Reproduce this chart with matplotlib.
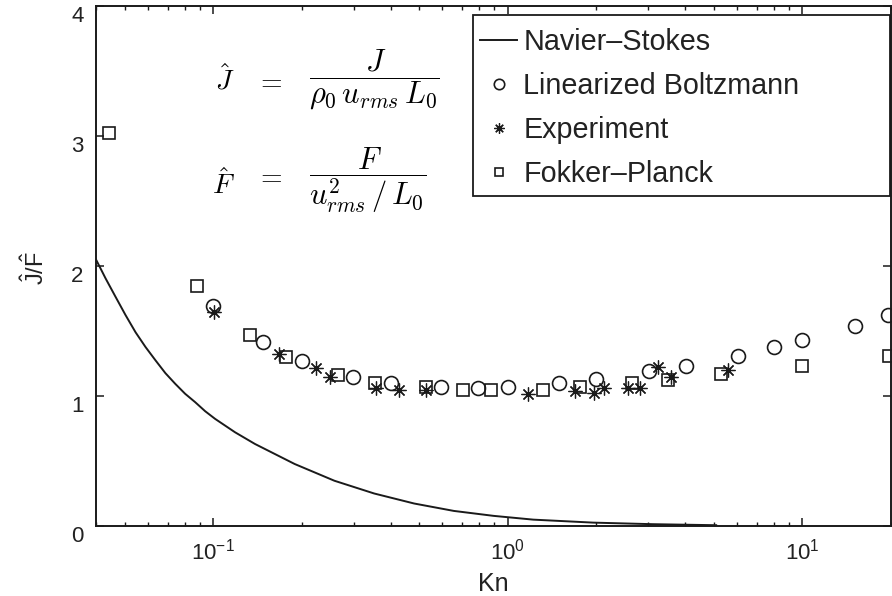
import matplotlib
matplotlib.use("Agg")
import matplotlib.pyplot as plt
from matplotlib.patches import Rectangle
from matplotlib.ticker import LogLocator, FuncFormatter, NullFormatter, FixedLocator
import numpy as np

plt.rcParams['font.family'] = ['Liberation Sans', 'DejaVu Sans']
plt.rcParams['mathtext.fontset'] = 'custom'
plt.rcParams['mathtext.rm'] = 'Liberation Sans'
plt.rcParams['mathtext.it'] = 'Liberation Sans:italic'
plt.rcParams['mathtext.bf'] = 'Liberation Sans:bold'

# ---------------- data ----------------
ns_kn = [0.040, 0.0431, 0.0466, 0.0504, 0.0545, 0.0589, 0.0637, 0.0688, 0.0743,
         0.0803, 0.0869, 0.0939, 0.1015, 0.1186, 0.1386, 0.189, 0.258, 0.352,
         0.481, 0.656, 0.895, 1.22, 1.95, 3.1, 4.52, 5.1]
ns_jf = [2.05, 1.905, 1.763, 1.622, 1.49, 1.377, 1.274, 1.176, 1.094,
         1.017, 0.952, 0.883, 0.824, 0.721, 0.631, 0.477, 0.348, 0.25,
         0.173, 0.116, 0.078, 0.049, 0.026, 0.014, 0.008, 0.006]

lb_kn = [0.100, 0.148, 0.200, 0.298, 0.400, 0.593, 0.790, 1.00, 1.49, 1.99,
         3.01, 4.02, 6.04, 8.00, 10.0, 15.1, 19.5]
lb_jf = [1.69, 1.415, 1.27, 1.15, 1.10, 1.07, 1.06, 1.07, 1.10, 1.13,
         1.19, 1.23, 1.31, 1.38, 1.43, 1.54, 1.62]

ex_kn = [0.101, 0.167, 0.223, 0.250, 0.356, 0.427, 0.527, 1.17, 1.69, 1.96,
         2.12, 2.55, 2.81, 3.23, 3.57, 5.58]
ex_jf = [1.65, 1.32, 1.215, 1.15, 1.06, 1.045, 1.045, 1.015, 1.04, 1.02,
         1.06, 1.06, 1.06, 1.22, 1.15, 1.20]

fp_kn = [0.0442, 0.0879, 0.133, 0.176, 0.265, 0.353, 0.527, 0.703, 0.875, 1.315,
         1.757, 2.64, 3.49, 5.28, 10.0, 19.7]
fp_jf = [3.02, 1.846, 1.47, 1.30, 1.16, 1.10, 1.07, 1.046, 1.046, 1.05,
         1.07, 1.10, 1.12, 1.17, 1.23, 1.31]

labels = ['Navier\u2013Stokes', 'Linearized Boltzmann', 'Experiment', 'Fokker\u2013Planck']
y_ticks = [0, 1, 2, 3, 4]
x_major = [0.1, 1.0, 10.0]

# ---------------- figure ----------------
W, H = 892, 596
fig = plt.figure(figsize=(W / 100, H / 100), dpi=100)
ax = fig.add_axes([96 / W, 70 / H, 795 / W, 520 / H])

ink = '#1a1a1a'
txt = '#222222'
ax.plot(ns_kn, ns_jf, '-', color=ink, lw=1.4, label=labels[0])
ax.plot(lb_kn, lb_jf, 'o', ls='none', mfc='none', mec=ink, mew=1.2, ms=10, label=labels[1])
ax.plot(ex_kn, ex_jf, marker=(8, 2, 0), ls='none', color=ink, mew=0.9, ms=10, label=labels[2])
ax.plot(fp_kn, fp_jf, 's', ls='none', mfc='none', mec=ink, mew=1.2, ms=8, label=labels[3])

ax.set_xscale('log')
ax.set_xlim(0.04, 20)
ax.set_ylim(0, 4)
ax.xaxis.set_major_locator(FixedLocator(x_major))
ax.xaxis.set_major_formatter(FuncFormatter(lambda v, p: r'$10^{%d}$' % int(round(np.log10(v)))))
ax.xaxis.set_minor_locator(LogLocator(base=10, subs=np.arange(2, 10), numticks=20))
ax.xaxis.set_minor_formatter(NullFormatter())
ax.set_yticks(y_ticks)
ax.set_yticklabels([str(t) for t in y_ticks])
for lab in ax.get_yticklabels():
    lab.set_verticalalignment('top')

ax.tick_params(which='both', direction='in', top=True, right=True, colors=ink,
               labelcolor=txt)
ax.tick_params(which='major', length=6, width=1.1, labelsize=16)
ax.tick_params(axis='y', which='major', pad=9)
ax.tick_params(axis='x', which='major', pad=9)
ax.tick_params(which='minor', length=3, width=1.0)
for s in ax.spines.values():
    s.set_linewidth(1.4)
    s.set_color(ink)

ax.set_xlabel('Kn', fontsize=18, color=txt, labelpad=5.5)
fig.text(35 / W, 1 - 268 / H, r'$\mathrm{\hat{J}/\hat{F}}$', rotation=90,
         ha='center', va='center', fontsize=17, color=txt)

# equations
eq = dict(math_fontfamily='cm', color='black')
fig.text(215 / W, 1 - 89 / H, r'$\hat{J}$', fontsize=20, ha='left', va='baseline', **eq)
fig.text(269 / W, 1 - 82 / H, r'$=$', fontsize=20, ha='center', va='center', **eq)
fig.text(374 / W, 1 - 80 / H, r'$\dfrac{J}{\rho_0\, u_{rms}\, L_0}$', fontsize=22,
         ha='center', va='center', **eq)
fig.text(212 / W, 1 - 194 / H, r'$\hat{F}$', fontsize=20, ha='left', va='baseline', **eq)
fig.text(269 / W, 1 - 177 / H, r'$=$', fontsize=20, ha='center', va='center', **eq)
fig.text(368 / W, 1 - 180 / H, r'$\dfrac{F}{u_{rms}^2\,/\,L_0}$', fontsize=22,
         ha='center', va='center', **eq)

# legend (frame drawn as a separate box, MATLAB style)
leg = ax.legend(loc='upper left', bbox_to_anchor=(480 / W, 1 - 28 / H),
                bbox_transform=fig.transFigure, borderaxespad=0,
                fontsize=20.7, frameon=False,
                handlelength=1.3, handletextpad=0.2, borderpad=0, labelspacing=0.56,
                markerscale=0.75)
for t in leg.get_texts():
    t.set_color(txt)
ax.add_patch(Rectangle((473 / W, 1 - 196 / H), 417 / W, 181 / H,
                       transform=fig.transFigure, facecolor='white',
                       edgecolor=ink, linewidth=1.3, zorder=4, clip_on=False))
leg.set_zorder(5)

fig.savefig('out.png', dpi=100)
